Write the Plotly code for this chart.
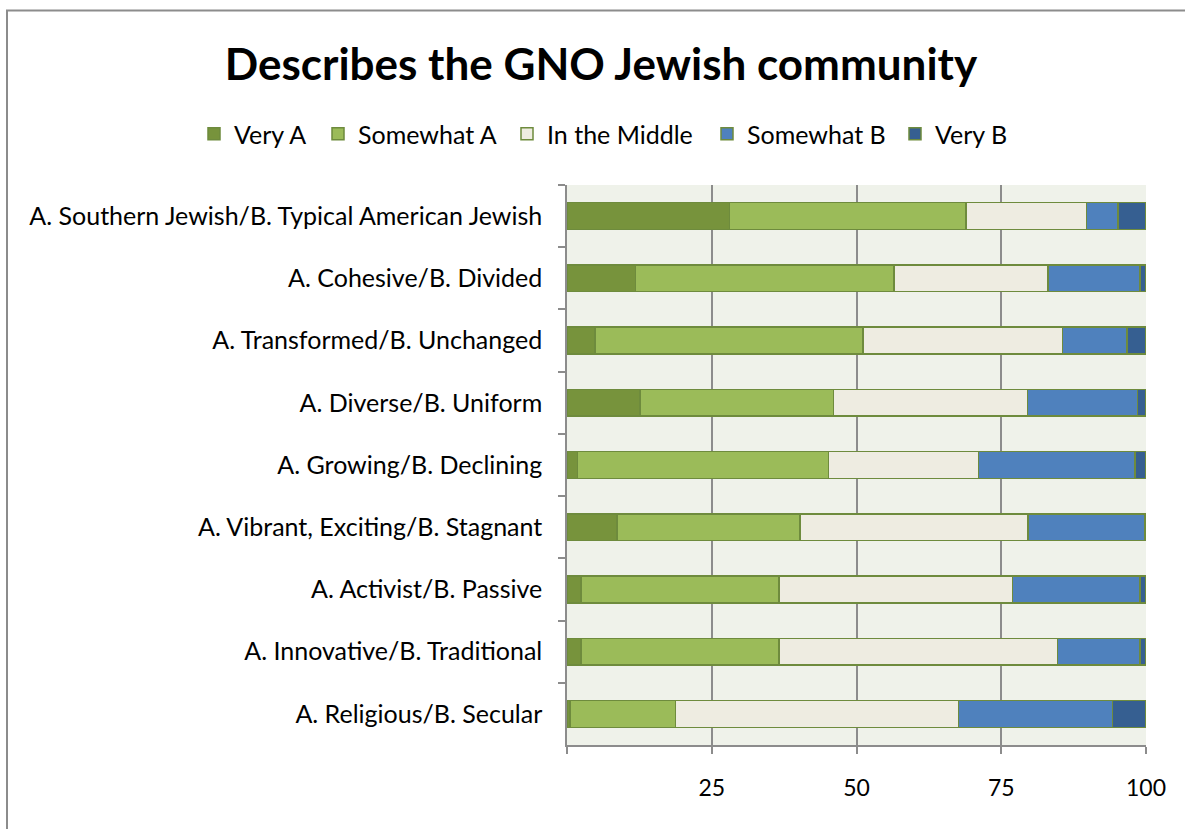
import plotly.graph_objects as go

# Survey items, listed top to bottom
categories = [
    "A. Southern Jewish/B. Typical American Jewish",
    "A. Cohesive/B. Divided",
    "A. Transformed/B. Unchanged",
    "A. Diverse/B. Uniform",
    "A. Growing/B. Declining",
    "A. Vibrant, Exciting/B. Stagnant",
    "A. Activist/B. Passive",
    "A. Innovative/B. Traditional",
    "A. Religious/B. Secular",
]

very_a = [28.1, 11.8, 4.8, 12.6, 1.8, 8.6, 2.4, 2.4, 0.5]
somewhat_a = [40.8, 44.7, 46.3, 33.4, 43.4, 31.6, 34.2, 34.2, 18.2]
in_the_middle = [20.8, 26.6, 34.5, 33.5, 25.9, 39.4, 40.3, 48.1, 48.9]
somewhat_b = [5.5, 15.9, 11.1, 19.0, 27.0, 20.2, 22.1, 14.3, 26.6]
very_b = [4.8, 1.0, 3.3, 1.5, 1.9, 0.2, 1.0, 1.0, 5.8]

x_tick_vals = [0, 25, 50, 75, 100]
x_tick_text = ["", "25", "50", "75", "100"]

series = [
    ("Very A", very_a, "#77933C"),
    ("Somewhat A", somewhat_a, "#9BBB59"),
    ("In the Middle", in_the_middle, "#EEECE1"),
    ("Somewhat B", somewhat_b, "#4F81BD"),
    ("Very B", very_b, "#365F91"),
]

# left edge (px) of each legend entry, laid out in one row
legend_left_px = [194, 318, 507, 707, 895]

FONT = "Lato"
W, H = 1185, 829
ML, MR, MT, MB = 567, 39, 185, 84
PW, PH = W - ML - MR, H - MT - MB


def px_to_paper_x(px):
    return (px - ML) / PW


def px_to_paper_y(py):
    return (H - MB - py) / PH


fig = go.Figure()
legend_layouts = {}
for i, (name, vals, color) in enumerate(series):
    key = "legend" if i == 0 else f"legend{i + 1}"
    fig.add_trace(go.Bar(
        y=categories, x=vals, name=name, orientation="h",
        marker=dict(color=color, line=dict(color="#6E8B3D", width=1.5)),
        legend=key,
    ))
    legend_layouts[key] = dict(
        orientation="h",
        x=px_to_paper_x(legend_left_px[i]), xanchor="left",
        y=px_to_paper_y(134), yanchor="middle",
        font=dict(family=FONT, size=25),
        itemwidth=30,
        bgcolor="rgba(0,0,0,0)",
    )

fig.update_layout(
    width=W, height=H,
    margin=dict(l=ML, r=MR, t=MT, b=MB),
    barmode="stack",
    bargap=0.57,
    paper_bgcolor="white",
    plot_bgcolor="#EFF2EA",
    font=dict(family=FONT, size=25, color="black"),
    title=dict(
        text="<b>Describes the GNO Jewish community</b>",
        x=601 / W, xanchor="center",
        y=1 - 65 / H, yanchor="middle",
        font=dict(family=FONT, size=44, color="black"),
    ),
    showlegend=True,
    xaxis=dict(
        range=[0, 100],
        tickvals=x_tick_vals, ticktext=x_tick_text,
        tickfont=dict(size=23),
        showgrid=True, gridcolor="#8C8C8C", gridwidth=1.5,
        showline=True, linecolor="#8C8C8C", linewidth=1.5,
        ticks="outside", ticklen=7, tickcolor="#8C8C8C", tickwidth=1.5,
        ticklabelstandoff=15,
        zeroline=False,
        fixedrange=True,
    ),
    yaxis=dict(
        autorange="reversed",
        showline=True, linecolor="#8C8C8C", linewidth=1.5,
        ticks="outside", ticklen=7, tickcolor="#8C8C8C", tickwidth=1.5,
        tickson="boundaries",
        ticklabelstandoff=18,
        showgrid=False,
        fixedrange=True,
    ),
    shapes=[
        dict(
            type="rect", xref="paper", yref="paper",
            x0=px_to_paper_x(7), x1=px_to_paper_x(W + 20),
            y0=px_to_paper_y(H + 20), y1=px_to_paper_y(10.5),
            line=dict(color="#8C8C8C", width=2),
            fillcolor="rgba(0,0,0,0)",
            layer="below",
        )
    ],
    **legend_layouts,
)

fig.write_html("out.html")
